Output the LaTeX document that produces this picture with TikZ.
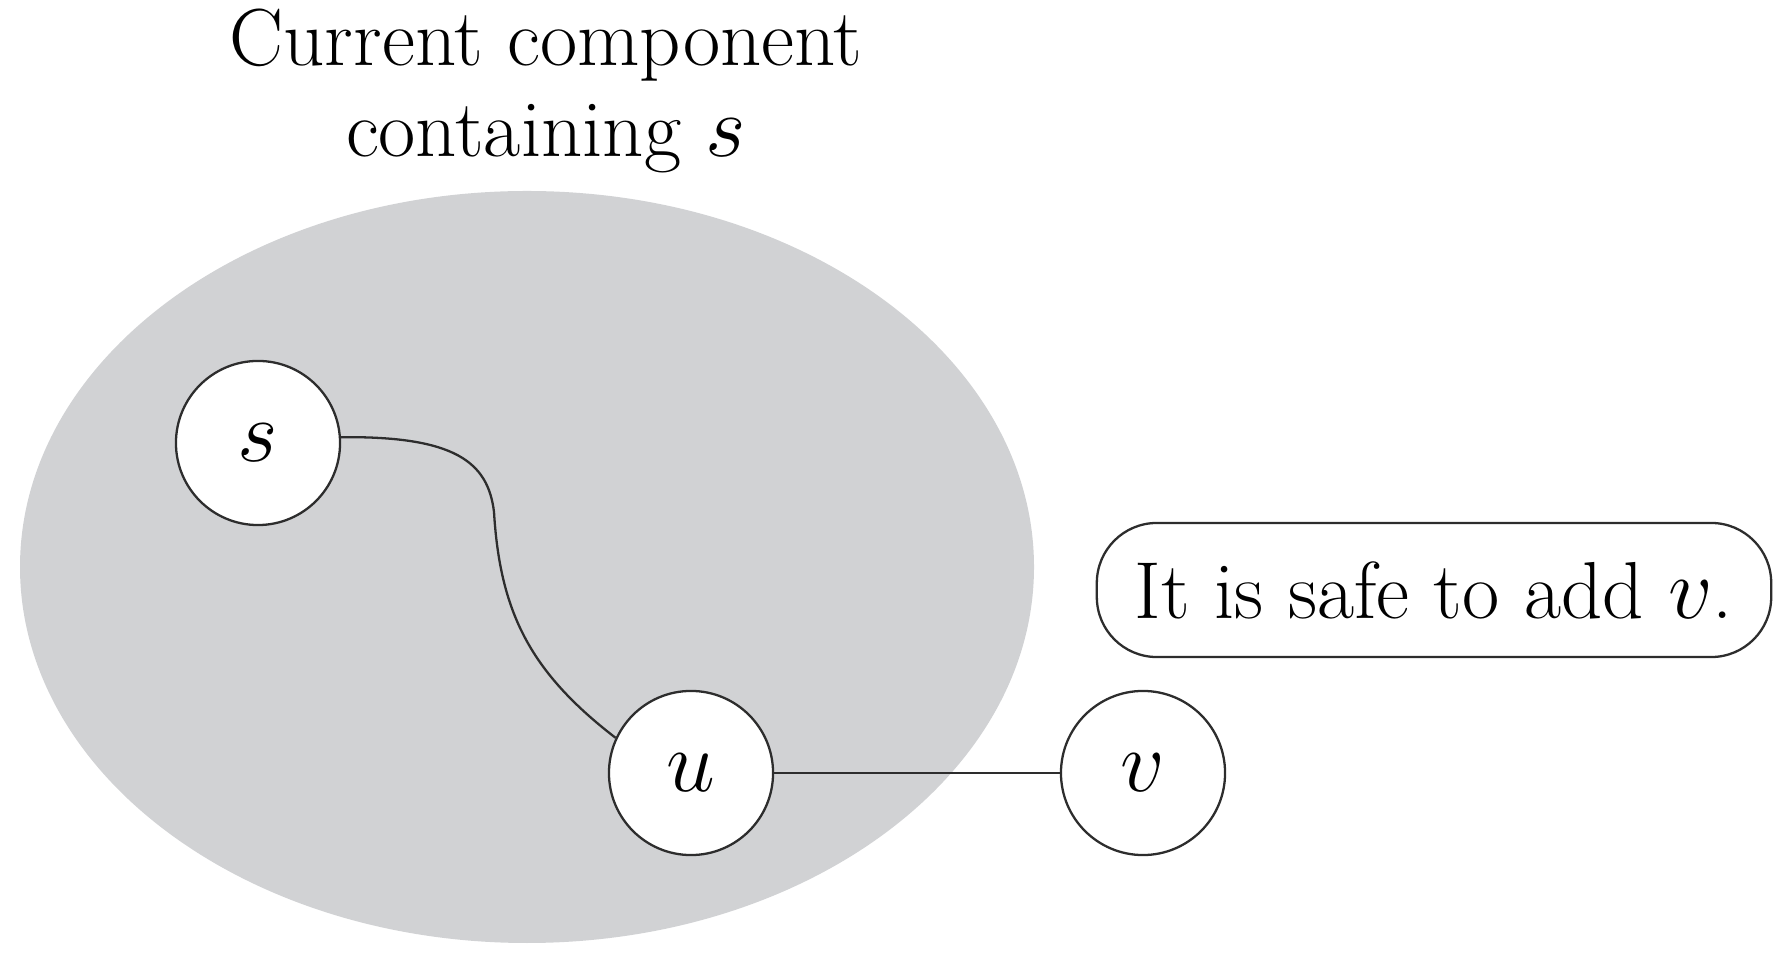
\documentclass[tikz,border=0pt]{standalone}
\usepackage{tikz}
\definecolor{compfill}{RGB}{209,210,212}
\definecolor{inkline}{RGB}{45,45,45}
\begin{document}
\begin{tikzpicture}[x=0.01cm,y=0.01cm,
  every node/.style={font=\fontsize{23}{26}\selectfont},
  vertex/.style={circle,draw=inkline,line width=0.65pt,fill=white,inner sep=0pt,minimum size=1.64cm},
  edge/.style={draw=inkline,line width=0.65pt},
  notebox/.style={draw=inkline,line width=0.65pt,fill=white,rounded corners=0.6cm,minimum width=6.74cm,minimum height=1.34cm,inner sep=0pt}]
\useasboundingbox (0,0) rectangle (1792,952);
\fill[compfill] (527,385) ellipse [x radius=507, y radius=376];
\node[align=center,anchor=base] (title) at (546,795) {Current component\\containing $s$};
\node[vertex] (s) at (258,509) {$s$};
\node[vertex] (u) at (691,179) {$u$};
\node[vertex] (v) at (1143,179) {$v$};
\node[notebox] (note) at (1434,362) {It is safe to add $v$.};
\draw[edge] (s.4) .. controls (455,516) and (488,490) .. (494,440)
  .. controls (500,340) and (530,280) .. (u.155);
\draw[edge] (u.east) -- (v.west);
\end{tikzpicture}
\end{document}
